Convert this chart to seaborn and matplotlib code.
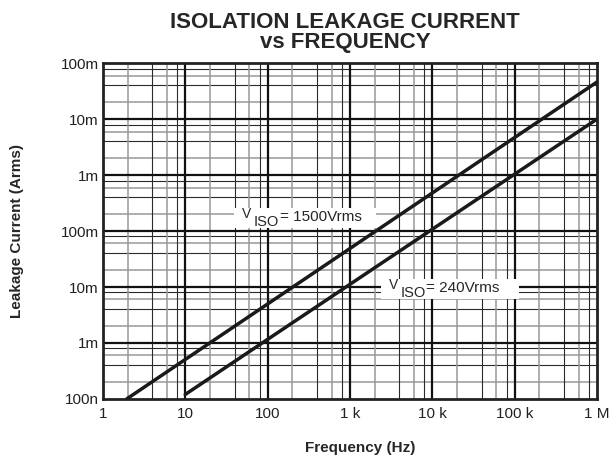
import numpy as np
import pandas as pd
import seaborn as sns
import matplotlib.pyplot as plt
from matplotlib.ticker import FixedLocator, NullFormatter

# (Hz, Arms)
freq_1500 = [1.95, 1e6]
curr_1500 = [1.0e-7, 4.6e-2]
freq_240 = [10, 1e6]
curr_240 = [1.2e-7, 1.0e-2]

x_ticks = [1, 10, 100, 1e3, 1e4, 1e5, 1e6]
x_labels = ["1", "10", "100", "1 k", "10 k", "100 k", "1 M"]
y_ticks = [1e-7, 1e-6, 1e-5, 1e-4, 1e-3, 1e-2, 1e-1]
y_labels = ["100n", "1m", "10m", "100m", "1m", "10m", "100m"]

df = pd.DataFrame({
    "freq": freq_1500 + freq_240,
    "curr": curr_1500 + curr_240,
    "vis": ["1500"] * 2 + ["240"] * 2,
})

sns.set_style("white")
plt.rcParams["font.family"] = ["Liberation Sans", "DejaVu Sans"]

fig = plt.figure(figsize=(6.16, 4.58), dpi=100)
ax = fig.add_axes([0.167, 0.129, 0.802, 0.733])

sns.lineplot(data=df, x="freq", y="curr", units="vis", estimator=None,
             color="#1a1a1a", lw=2.5, ax=ax, zorder=5)
ax.set_xscale("log")
ax.set_yscale("log")
ax.set_xlim(1, 1e6)
ax.set_ylim(1e-7, 1e-1)

# grid: decades dark, 2/4/6/8 lighter
for d in range(-7, 6):
    for m in (2, 4, 6, 8):
        v = m * 10.0 ** d
        c, w = ("#999999", 1.1) if m in (2, 6) else ("#2a2a2a", 0.8)
        if 1 < v < 1e6:
            ax.axvline(v, color=c, lw=w, zorder=1)
        if 1e-7 < v < 1e-1:
            ax.axhline(v, color=c, lw=w, zorder=1)
for v in x_ticks[1:-1]:
    ax.axvline(v, color="#111111", lw=1.6, zorder=2)
for v in y_ticks[1:-1]:
    ax.axhline(v, color="#111111", lw=1.6, zorder=2)

ax.xaxis.set_major_locator(FixedLocator(x_ticks))
ax.set_xticklabels(x_labels)
ax.xaxis.set_minor_formatter(NullFormatter())
ax.yaxis.set_major_locator(FixedLocator(y_ticks))
ax.set_yticklabels(y_labels)
ax.yaxis.set_minor_formatter(NullFormatter())
ax.tick_params(which="both", length=0, labelsize=11, colors="#222222")
ax.tick_params(axis="x", pad=6)
ax.tick_params(axis="y", pad=3)

for s in ax.spines.values():
    s.set_linewidth(2)
    s.set_color("#222222")


def viso_label(x, y, rest, nspace):
    # white box behind the whole label
    ax.text(x, y, " " * nspace, fontsize=11, va="baseline", ha="left",
            bbox=dict(facecolor="white", edgecolor="none", pad=2.2), zorder=6)
    t1 = ax.annotate("V", xy=(x, y), xytext=(3.5, 3.2), textcoords="offset points",
                     fontsize=10, va="baseline", ha="left", zorder=7)
    t2 = ax.annotate("ISO", xy=(1, 0), xycoords=t1, xytext=(1.5, -5.8),
                     textcoords="offset points", fontsize=10.5,
                     va="bottom", ha="left", zorder=7)
    ax.annotate(rest, xy=(1, 0), xycoords=t2, xytext=(0.5, 3.0),
                textcoords="offset points", fontsize=11,
                va="bottom", ha="left", zorder=7)


viso_label(43, 1.45e-4, "= 1500Vrms", 32)
viso_label(2600, 7.8e-6, "= 240Vrms", 31)

ax.set_title("ISOLATION LEAKAGE CURRENT\nvs FREQUENCY", fontsize=16,
             fontweight="bold", linespacing=0.95, pad=11, x=0.49)
ax.set_xlabel("Frequency (Hz)", fontsize=11, fontweight="bold", labelpad=14, x=0.52)
ax.set_ylabel("Leakage Current (Arms)", fontsize=11, fontweight="bold", labelpad=26)

fig.savefig("out.png", dpi=100)
